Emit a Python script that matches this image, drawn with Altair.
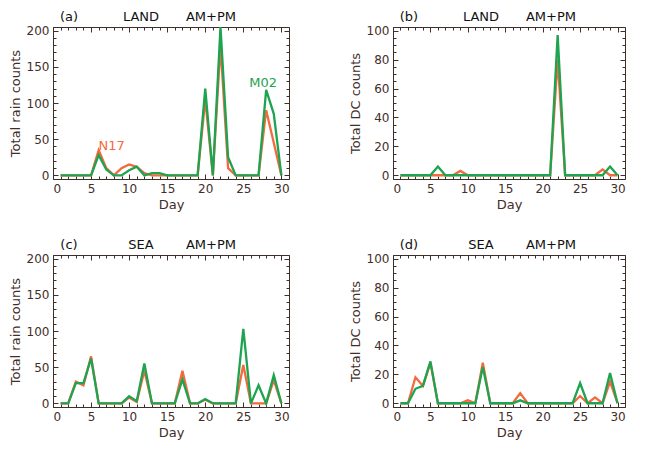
import altair as alt
import pandas as pd

# ---------------- data ----------------
days = list(range(1, 31))
series_names = ["N17", "M02"]

a_n17 = [0, 0, 0, 0, 0, 35, 10, 0, 10, 15, 12, 3, 0, 0, 0, 0, 0, 0, 0, 105, 0, 180, 10, 0, 0, 0, 0, 90, 45, 0]
a_m02 = [0, 0, 0, 0, 0, 28, 8, 0, 0, 7, 12, 0, 3, 3, 0, 0, 0, 0, 0, 120, 0, 205, 25, 0, 0, 0, 0, 118, 85, 0]

b_n17 = [0, 0, 0, 0, 0, 0, 0, 0, 3, 0, 0, 0, 0, 0, 0, 0, 0, 0, 0, 0, 0, 80, 0, 0, 0, 0, 0, 4, 0, 0]
b_m02 = [0, 0, 0, 0, 0, 6, 0, 0, 0, 0, 0, 0, 0, 0, 0, 0, 0, 0, 0, 0, 0, 97, 0, 0, 0, 0, 0, 0, 6, 0]

c_n17 = [0, 0, 30, 25, 65, 0, 0, 0, 0, 8, 2, 45, 0, 0, 0, 0, 45, 0, 0, 5, 0, 0, 0, 0, 53, 0, 0, 0, 32, 0]
c_m02 = [0, 0, 28, 28, 62, 0, 0, 0, 0, 10, 3, 55, 0, 0, 0, 0, 33, 0, 0, 6, 0, 0, 0, 0, 103, 0, 25, 0, 39, 0]

d_n17 = [0, 0, 18, 12, 28, 0, 0, 0, 0, 2, 0, 28, 0, 0, 0, 0, 7, 0, 0, 0, 0, 0, 0, 0, 5, 0, 4, 0, 15, 0]
d_m02 = [0, 0, 10, 12, 29, 0, 0, 0, 0, 0, 0, 25, 0, 0, 0, 0, 2, 0, 0, 0, 0, 0, 0, 0, 14, 0, 0, 0, 21, 0]

x_major = [0, 5, 10, 15, 20, 25, 30]
x_minor = list(range(0, 32))
rain_major = [0, 50, 100, 150, 200]
rain_minor = list(range(0, 201, 10))
dc_major = [0, 20, 40, 60, 80, 100]
dc_minor = list(range(0, 101, 5))

# series label annotations in panel (a)
label_text = ["N17", "M02"]
label_day = [7.7, 27.6]
label_val = [40, 127]

ORANGE = "#F26A3D"
GREEN = "#1EA350"
INK = "#3f2e2a"
FONT = "DejaVu Sans"
W_LEFT, W_RIGHT, H = 236, 232, 152


def make_df(n17, m02):
    return pd.DataFrame({
        "day": days * 2,
        "value": n17 + m02,
        "series": [series_names[0]] * len(days) + [series_names[1]] * len(days),
    })


def ax(orient, values, major, show_labels=False, title=None):
    size = 5 if major else 3
    kw = dict(orient=orient, values=values, tickSize=size, offset=-size,
              domain=False, grid=False, labels=show_labels,
              tickColor=INK, tickWidth=1, title=title)
    if show_labels:
        kw.update(labelColor=INK, labelFontSize=12, labelFont=FONT,
                  labelPadding=4, titleColor=INK, titleFontSize=13,
                  titleFont=FONT, titleFontWeight="normal", titlePadding=4)
    return alt.Axis(**kw)


def panel(n17, m02, letter, region, ytitle, ydom, ymaj, ymin, width, with_labels=False):
    df = make_df(n17, m02)
    xs = alt.Scale(domain=[0, 31], nice=False, zero=False)
    ys = alt.Scale(domain=ydom, nice=False, zero=False)

    orange = alt.Chart(df).transform_filter("datum.series == 'N17'").mark_line(
        color=ORANGE, strokeWidth=2.3, clip=True
    ).encode(
        x=alt.X("day:Q", scale=xs, axis=ax("bottom", x_major, True, True, "Day")),
        y=alt.Y("value:Q", scale=ys, axis=ax("left", ymaj, True, True, ytitle)),
    )
    green = alt.Chart(df).transform_filter("datum.series == 'M02'").mark_line(
        color=GREEN, strokeWidth=2.3, clip=True
    ).encode(
        x=alt.X("day:Q", scale=xs, axis=ax("top", x_major, True)),
        y=alt.Y("value:Q", scale=ys, axis=ax("right", ymaj, True)),
    )
    minor1 = alt.Chart(df).mark_point(opacity=0).encode(
        x=alt.X("day:Q", scale=xs, axis=ax("bottom", x_minor, False)),
        y=alt.Y("value:Q", scale=ys, axis=ax("left", ymin, False)),
    )
    minor2 = alt.Chart(df).mark_point(opacity=0).encode(
        x=alt.X("day:Q", scale=xs, axis=ax("top", x_minor, False)),
        y=alt.Y("value:Q", scale=ys, axis=ax("right", ymin, False)),
    )
    layers = [orange, green, minor1, minor2]

    one = pd.DataFrame({"k": [0]})
    for txt, off in zip([letter, region, "AM+PM"], [16, 88, 158]):
        layers.append(
            alt.Chart(one).mark_text(fontSize=13, font=FONT, color="#111111",
                                     baseline="middle", align="center").encode(
                x=alt.value(off), y=alt.value(-10), text=alt.value(txt))
        )

    if with_labels:
        ldf = pd.DataFrame({"day": label_day, "value": label_val, "label": label_text})
        for i, col in enumerate([ORANGE, GREEN]):
            layers.append(
                alt.Chart(ldf.iloc[[i]]).mark_text(fontSize=13, font=FONT, color=col,
                                                   baseline="middle", align="center").encode(
                    x=alt.X("day:Q", scale=xs, axis=None),
                    y=alt.Y("value:Q", scale=ys, axis=None),
                    text="label:N")
            )

    return alt.layer(*layers).resolve_axis(x="independent", y="independent").properties(
        width=width, height=H)


pa = panel(a_n17, a_m02, "(a)", "LAND", "Total rain counts", [-5, 205], rain_major, rain_minor, W_LEFT, True)
pb = panel(b_n17, b_m02, "(b)", "LAND", "Total DC counts", [-2.6, 102.6], dc_major, dc_minor, W_RIGHT)
pc = panel(c_n17, c_m02, "(c)", "SEA", "Total rain counts", [-5, 205], rain_major, rain_minor, W_LEFT)
pd_ = panel(d_n17, d_m02, "(d)", "SEA", "Total DC counts", [-2.6, 102.6], dc_major, dc_minor, W_RIGHT)

chart = alt.vconcat(
    alt.hconcat(pa, pb, spacing=58),
    alt.hconcat(pc, pd_, spacing=58),
    spacing=26,
).properties(
    padding={"left": 0, "top": 2, "right": 0, "bottom": 0},
    background="white",
).configure_view(stroke=INK, strokeWidth=1)

chart.save("out.html", embed_options={"renderer": "svg", "actions": False})
